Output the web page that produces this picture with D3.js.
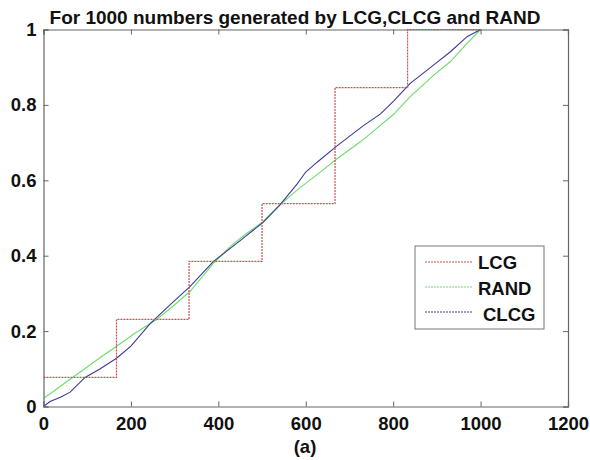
<!DOCTYPE html>
<html>
<head>
<meta charset="utf-8">
<script src="https://cdn.jsdelivr.net/npm/d3@7"></script>
<style>
  body { margin: 0; background: #fff; }
  text { font-family: "Liberation Sans", Arial, sans-serif; font-weight: bold; fill: #111; }
</style>
</head>
<body>
<div id="graph"></div>
<script>
// Données
// LCG : escalier (début de chaque palier et sa hauteur)
const lcg_x = [0, 167, 333, 500, 667, 833, 1000]
const lcg_y = [0.077, 0.231, 0.385, 0.538, 0.846, 1.0, 1.0]

// RAND (vert)
const rand_x = [0, 20, 40, 64, 100, 130, 167, 210, 259, 300, 335, 389, 427, 460, 502, 541, 580, 626, 670, 725, 770, 801, 839, 893, 931, 969, 1000]
const rand_y = [0.022, 0.038, 0.055, 0.075, 0.105, 0.13, 0.16, 0.195, 0.231, 0.27, 0.305, 0.38, 0.424, 0.455, 0.49, 0.535, 0.574, 0.615, 0.656, 0.702, 0.745, 0.775, 0.822, 0.879, 0.915, 0.963, 1.0]

// CLCG (bleu)
const clcg_x = [0, 15, 40, 61, 95, 130, 167, 200, 244, 290, 335, 389, 450, 502, 541, 580, 600, 626, 670, 732, 771, 801, 839, 893, 931, 969, 1000]
const clcg_y = [0, 0.013, 0.025, 0.038, 0.077, 0.10, 0.128, 0.16, 0.22, 0.27, 0.318, 0.385, 0.44, 0.488, 0.535, 0.59, 0.622, 0.648, 0.69, 0.745, 0.776, 0.81, 0.857, 0.906, 0.941, 0.981, 1.0]

// Graduations
const x_ticks = [0, 200, 400, 600, 800, 1000, 1200]
const y_ticks = [0, 0.2, 0.4, 0.6, 0.8, 1]

// Légende
const legend_names = ["LCG", "RAND", "CLCG"]
const legend_colors = ["#c9504c", "#72dc72", "#3b3b98"]

// Marges
const width = 590
const height = 460
const m_left = 43.5, m_right = 568, m_top = 29.5, m_bottom = 406.5

const svg = d3.select("#graph")
    .append("svg")
    .attr("width", width)
    .attr("height", height)

// Echelles
let x = d3.scaleLinear().domain([0, 1200]).range([m_left, m_right])
let y = d3.scaleLinear().domain([0, 1]).range([m_bottom, m_top])

svg.append("clipPath")
    .attr("id", "zone")
    .append("rect")
    .attr("x", m_left)
    .attr("y", m_top - 1)
    .attr("width", m_right - m_left)
    .attr("height", m_bottom - m_top + 1)

// Courbes
let ligne = d3.line()
    .x(function(d){ return x(d[0]) })
    .y(function(d){ return y(d[1]) })

let courbes = svg.append("g").attr("clip-path", "url(#zone)")

courbes.append("path")
    .datum(d3.zip(rand_x, rand_y))
    .attr("d", ligne)
    .attr("fill", "none")
    .attr("stroke", legend_colors[1])
    .attr("stroke-width", 1.2)

courbes.append("path")
    .datum(d3.zip(clcg_x, clcg_y))
    .attr("d", ligne)
    .attr("fill", "none")
    .attr("stroke", legend_colors[2])
    .attr("stroke-width", 1.1)

courbes.append("path")
    .datum(d3.zip(lcg_x, lcg_y))
    .attr("d", ligne.curve(d3.curveStepAfter))
    .attr("fill", "none")
    .attr("stroke", legend_colors[0])
    .attr("stroke-width", 1.2)
    .attr("stroke-dasharray", "2,1")

// Axes (boite avec graduations vers l'intérieur)
svg.append("g")
    .attr("transform", "translate(0," + m_bottom + ")")
    .call(d3.axisBottom(x).tickValues(x_ticks).tickSize(-5).tickPadding(10).tickFormat(d3.format("d")))

svg.append("g")
    .attr("transform", "translate(0," + m_top + ")")
    .call(d3.axisTop(x).tickValues(x_ticks).tickSize(-5).tickFormat(""))

svg.append("g")
    .attr("transform", "translate(" + m_left + ",0)")
    .call(d3.axisLeft(y).tickValues(y_ticks).tickSize(-5).tickPadding(7).tickFormat(function(d){ return d3.format("")(d) }))

svg.append("g")
    .attr("transform", "translate(" + m_right + ",0)")
    .call(d3.axisRight(y).tickValues(y_ticks).tickSize(-5).tickFormat(""))

svg.selectAll(".domain").attr("stroke", "#666").attr("stroke-width", 1.2)
svg.selectAll(".tick line").attr("stroke", "#666")
svg.selectAll(".tick text")
    .attr("font-size", "18.5px")
    .attr("font-family", "Liberation Sans, Arial, sans-serif")
    .attr("font-weight", "bold")
    .attr("fill", "#111")

// Titre
svg.append("text")
    .attr("x", 295)
    .attr("y", 24)
    .attr("text-anchor", "middle")
    .style("font-size", "19px")
    .text("For 1000 numbers generated by LCG,CLCG and RAND")

svg.append("text")
    .attr("x", 305)
    .attr("y", 453)
    .attr("text-anchor", "middle")
    .style("font-size", "18.5px")
    .text("(a)")

// Légende
let legende = svg.append("g")

legende.append("rect")
    .attr("x", 415)
    .attr("y", 246)
    .attr("width", 129)
    .attr("height", 83)
    .attr("fill", "#fff")
    .attr("stroke", "#777")
    .attr("stroke-width", 1)

legende.selectAll("line")
    .data(legend_names)
    .enter()
    .append("line")
    .attr("x1", 425)
    .attr("x2", 473)
    .attr("y1", function(d, i){ return 262 + i * 25 })
    .attr("y2", function(d, i){ return 262 + i * 25 })
    .attr("stroke", function(d, i){ return legend_colors[i] })
    .attr("stroke-width", 1.2)
    .attr("stroke-dasharray", "2,1")

legende.selectAll("text")
    .data(legend_names)
    .enter()
    .append("text")
    .attr("x", function(d, i){ return i == 2 ? 483 : 478 })
    .attr("y", function(d, i){ return 268.5 + i * 26 })
    .style("font-size", "18.5px")
    .text(function(d){ return d })
</script>
</body>
</html>
